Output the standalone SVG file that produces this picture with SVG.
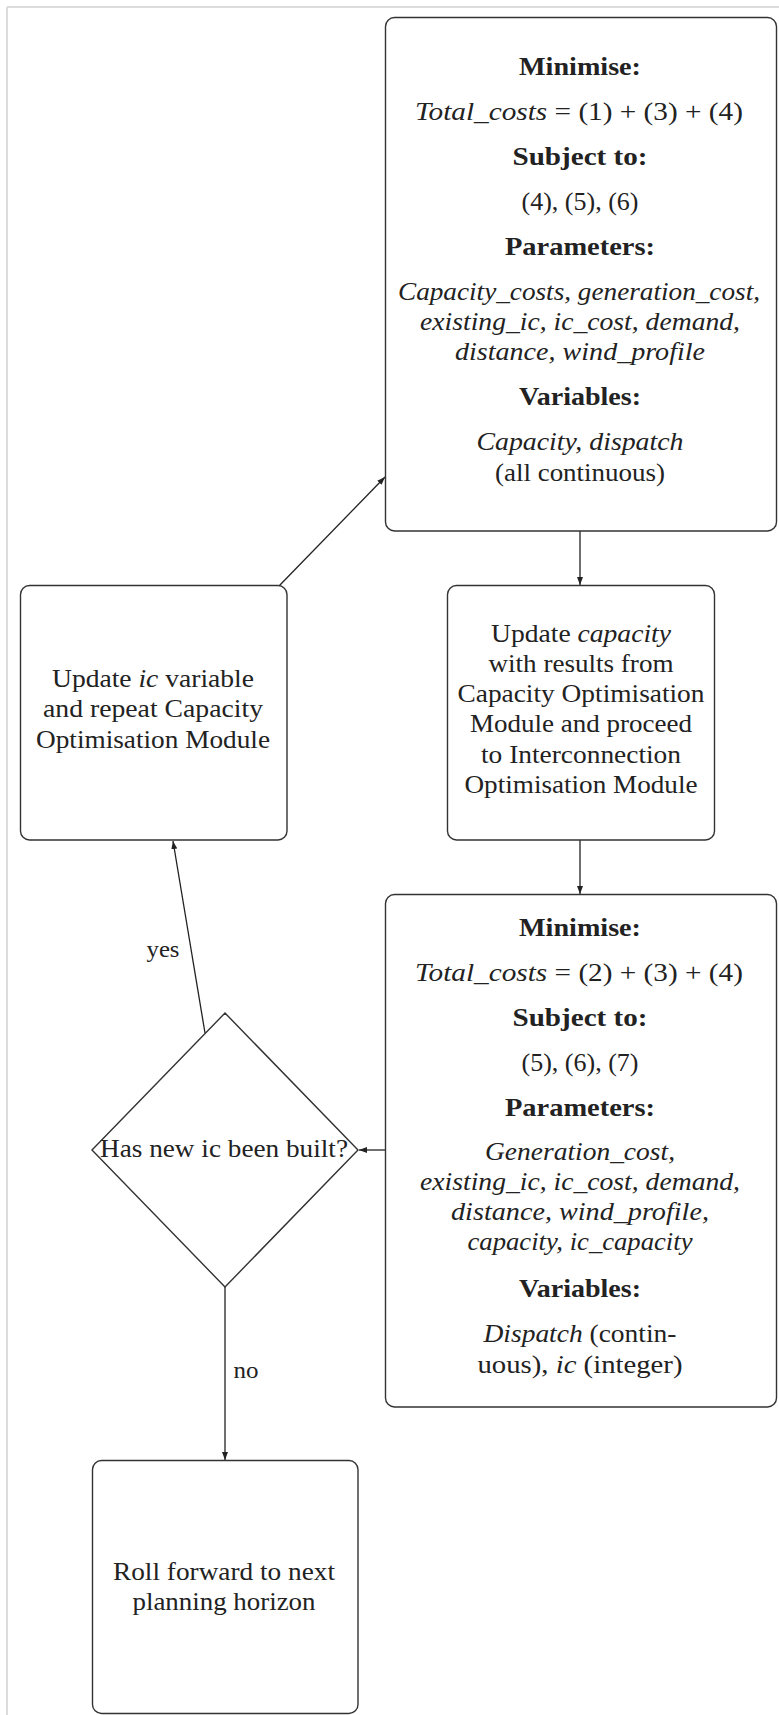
<svg xmlns="http://www.w3.org/2000/svg" width="779" height="1715" viewBox="0 0 779 1715">
<style>
.frame{stroke:#dcdcdc;stroke-width:2;fill:none}
.box{fill:#fff;stroke:#333;stroke-width:1.4}
.edge{stroke:#222;stroke-width:1.3;fill:none}
text{font-family:"Liberation Serif","Times New Roman",serif;font-size:25px;fill:#222;text-anchor:middle}
.b{font-weight:bold}
.i{font-style:italic}
.lbl{font-size:24px}
</style>
<defs>
<marker id="ah" markerUnits="userSpaceOnUse" markerWidth="9" markerHeight="7" refX="8" refY="3.5" orient="auto">
<path d="M0,0.5 L8,3.5 L0,6.5 z" fill="#222"/>
</marker>
</defs>
<rect width="779" height="1715" fill="#fff"/>
<g id="frame">
<line class="frame" x1="7" y1="7" x2="779" y2="7"/>
<line class="frame" x1="7" y1="7" x2="7" y2="1715"/>
</g>
<g id="connectors">
<line class="edge" x1="580" y1="531" x2="580" y2="585" marker-end="url(#ah)"/>
<line class="edge" x1="580" y1="840" x2="580" y2="894" marker-end="url(#ah)"/>
<line class="edge" x1="385.5" y1="1150" x2="359" y2="1150" marker-end="url(#ah)"/>
<line class="edge" x1="205" y1="1033" x2="173" y2="841" marker-end="url(#ah)"/>
<line class="edge" x1="225" y1="1287" x2="225" y2="1460" marker-end="url(#ah)"/>
<line class="edge" x1="279" y1="586" x2="385" y2="477" marker-end="url(#ah)"/>
<text class="lbl" x="163" y="957" textLength="33" lengthAdjust="spacingAndGlyphs">yes</text>
<text class="lbl" x="246" y="1378" textLength="25" lengthAdjust="spacingAndGlyphs">no</text>
</g>
<g id="capacity-module">
<rect class="box" x="385.5" y="17.5" width="391" height="513.5" rx="9"/>
<text class="b" x="580" y="75" textLength="122" lengthAdjust="spacingAndGlyphs">Minimise:</text>
<text x="579" y="120" textLength="328" lengthAdjust="spacingAndGlyphs"><tspan class="i">Total_costs</tspan> = (1) + (3) + (4)</text>
<text class="b" x="580" y="165" textLength="135" lengthAdjust="spacingAndGlyphs">Subject to:</text>
<text x="580" y="210" textLength="117" lengthAdjust="spacingAndGlyphs">(4), (5), (6)</text>
<text class="b" x="580" y="255" textLength="150" lengthAdjust="spacingAndGlyphs">Parameters:</text>
<text class="i" x="579" y="300" textLength="362" lengthAdjust="spacingAndGlyphs">Capacity_costs, generation_cost,</text>
<text class="i" x="580" y="330" textLength="320" lengthAdjust="spacingAndGlyphs">existing_ic, ic_cost, demand,</text>
<text class="i" x="580" y="360" textLength="250" lengthAdjust="spacingAndGlyphs">distance, wind_profile</text>
<text class="b" x="580" y="405" textLength="122" lengthAdjust="spacingAndGlyphs">Variables:</text>
<text class="i" x="580" y="450" textLength="207" lengthAdjust="spacingAndGlyphs">Capacity, dispatch</text>
<text x="580" y="481" textLength="170" lengthAdjust="spacingAndGlyphs">(all continuous)</text>
</g>
<g id="update-capacity">
<rect class="box" x="447.5" y="585.5" width="267" height="254.5" rx="9"/>
<text x="581" y="642" textLength="180" lengthAdjust="spacingAndGlyphs">Update <tspan class="i">capacity</tspan></text>
<text x="581" y="672" textLength="185" lengthAdjust="spacingAndGlyphs">with results from</text>
<text x="581" y="702" textLength="247" lengthAdjust="spacingAndGlyphs">Capacity Optimisation</text>
<text x="581" y="732" textLength="222" lengthAdjust="spacingAndGlyphs">Module and proceed</text>
<text x="581" y="763" textLength="200" lengthAdjust="spacingAndGlyphs">to Interconnection</text>
<text x="581" y="793" textLength="233" lengthAdjust="spacingAndGlyphs">Optimisation Module</text>
</g>
<g id="update-ic">
<rect class="box" x="20.5" y="585.5" width="266.5" height="254.5" rx="9"/>
<text x="153" y="687" textLength="202" lengthAdjust="spacingAndGlyphs">Update <tspan class="i">ic</tspan> variable</text>
<text x="153" y="717" textLength="220" lengthAdjust="spacingAndGlyphs">and repeat Capacity</text>
<text x="153" y="748" textLength="234" lengthAdjust="spacingAndGlyphs">Optimisation Module</text>
</g>
<g id="interconnection-module">
<rect class="box" x="385.5" y="894.5" width="391" height="512.5" rx="9"/>
<text class="b" x="580" y="936" textLength="122" lengthAdjust="spacingAndGlyphs">Minimise:</text>
<text x="579" y="981" textLength="328" lengthAdjust="spacingAndGlyphs"><tspan class="i">Total_costs</tspan> = (2) + (3) + (4)</text>
<text class="b" x="580" y="1026" textLength="135" lengthAdjust="spacingAndGlyphs">Subject to:</text>
<text x="580" y="1071" textLength="117" lengthAdjust="spacingAndGlyphs">(5), (6), (7)</text>
<text class="b" x="580" y="1116" textLength="150" lengthAdjust="spacingAndGlyphs">Parameters:</text>
<text class="i" x="580" y="1160" textLength="190" lengthAdjust="spacingAndGlyphs">Generation_cost,</text>
<text class="i" x="580" y="1190" textLength="320" lengthAdjust="spacingAndGlyphs">existing_ic, ic_cost, demand,</text>
<text class="i" x="580" y="1220" textLength="258" lengthAdjust="spacingAndGlyphs">distance, wind_profile,</text>
<text class="i" x="580" y="1250" textLength="225" lengthAdjust="spacingAndGlyphs">capacity, ic_capacity</text>
<text class="b" x="580" y="1297" textLength="122" lengthAdjust="spacingAndGlyphs">Variables:</text>
<text x="580" y="1342" textLength="193" lengthAdjust="spacingAndGlyphs"><tspan class="i">Dispatch</tspan> (contin-</text>
<text x="580" y="1373" textLength="205" lengthAdjust="spacingAndGlyphs">uous), <tspan class="i">ic</tspan> (integer)</text>
</g>
<g id="decision">
<polygon points="225,1013 358,1150 225,1287 92,1150" fill="#fff" stroke="#333" stroke-width="1.4"/>
<text x="224" y="1157" textLength="248" lengthAdjust="spacingAndGlyphs">Has new ic been built?</text>
</g>
<g id="roll-forward">
<rect class="box" x="92.5" y="1460.5" width="265.5" height="253" rx="9"/>
<text x="224" y="1580" textLength="222" lengthAdjust="spacingAndGlyphs">Roll forward to next</text>
<text x="224" y="1610" textLength="183" lengthAdjust="spacingAndGlyphs">planning horizon</text>
</g>
</svg>
